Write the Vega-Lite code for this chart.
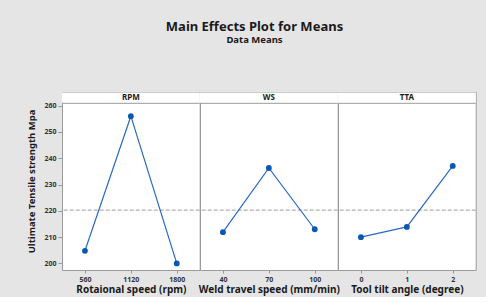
{
  "$schema": "https://vega.github.io/schema/vega-lite/v6.json",
  "background": "#e5e5e5",
  "padding": {"left": 26, "top": 21, "right": 4, "bottom": 2},
  "bounds": "flush",
  "title": {
    "text": "Main Effects Plot for Means",
    "subtitle": "Data Means",
    "anchor": "start",
    "align": "center",
    "dx": 228,
    "font": "Noto Sans",
    "fontSize": 13,
    "fontWeight": "bold",
    "color": "#1a1a1a",
    "subtitleFont": "Noto Sans",
    "subtitleFontSize": 9.5,
    "subtitleFontWeight": "bold",
    "subtitleColor": "#1a1a1a",
    "subtitlePadding": 1,
    "offset": 47
  },
  "data": {
    "values": [
      {"kind": "mean", "factor": "RPM", "level": 560, "value": 204.8},
      {"kind": "mean", "factor": "RPM", "level": 1120, "value": 256.0},
      {"kind": "mean", "factor": "RPM", "level": 1800, "value": 200.0},
      {"kind": "mean", "factor": "WS", "level": 40, "value": 211.9},
      {"kind": "mean", "factor": "WS", "level": 70, "value": 236.3},
      {"kind": "mean", "factor": "WS", "level": 100, "value": 213.0},
      {"kind": "mean", "factor": "TTA", "level": 0, "value": 210.0},
      {"kind": "mean", "factor": "TTA", "level": 1, "value": 213.9},
      {"kind": "mean", "factor": "TTA", "level": 2, "value": 237.1},
      {"kind": "strip", "factor": "RPM", "level": 1120, "value": 263.05, "label": "RPM"},
      {"kind": "strip", "factor": "WS", "level": 70, "value": 263.05, "label": "WS"},
      {"kind": "strip", "factor": "TTA", "level": 1, "value": 263.05, "label": "TTA"},
      {"kind": "stripline", "factor": "all", "value": 260.9},
      {"kind": "grand", "factor": "all", "value": 220.3}
    ]
  },
  "spacing": 0,
  "config": {
    "view": {"stroke": "#9a9a9a", "strokeWidth": 1, "fill": "white"},
    "axis": {
      "labelFont": "Noto Sans",
      "titleFont": "Noto Sans",
      "labelFontWeight": "bold",
      "titleFontWeight": "bold",
      "labelColor": "#333333",
      "titleColor": "#1a1a1a",
      "tickColor": "#9a9a9a",
      "domain": false,
      "grid": false,
      "labelOverlap": false
    }
  },
  "hconcat": [
    {
      "width": 137.7,
      "height": 178,
      "transform": [{"filter": "datum.factor === 'all' || datum.factor === 'RPM'"}],
      "encoding": {
        "y": {"field": "value", "type": "quantitative",
          "scale": {"domain": [197.5, 265.2], "nice": false, "zero": false},
          "axis": {"title": "Ultimate Tensile strength Mpa", "values": [200, 210, 220, 230, 240, 250, 260], "labelFontSize": 7, "tickSize": 4, "labelPadding": 2, "titleFontSize": 9.5, "titlePadding": 7}}
      },
      "layer": [
        {
          "transform": [{"filter": "datum.kind === 'strip'"}],
          "mark": {"type": "rule", "color": "white", "strokeWidth": 10.5},
          "encoding": {}
        },
        {
          "transform": [{"filter": "datum.kind === 'stripline'"}],
          "mark": {"type": "rule", "color": "#9a9a9a", "strokeWidth": 1},
          "encoding": {}
        },
        {
          "transform": [{"filter": "datum.kind === 'grand'"}],
          "mark": {"type": "rule", "color": "#b0b0b0", "strokeDash": [4, 2], "strokeWidth": 1.2},
          "encoding": {}
        },
        {
          "transform": [{"filter": "datum.kind === 'mean'"}],
          "mark": {"type": "line", "color": "#2a6ac4", "strokeWidth": 1.2},
          "encoding": {
            "x": {"field": "level", "type": "ordinal", "scale": {"type": "point", "padding": 0.5},
              "axis": {"title": "Rotaional speed (rpm)", "labelAngle": 0, "labelFontSize": 7, "tickSize": 3, "labelPadding": 2, "titleFontSize": 10, "titlePadding": 2}}
          }
        },
        {
          "transform": [{"filter": "datum.kind === 'mean'"}],
          "mark": {"type": "circle", "color": "#0b58b0", "opacity": 1, "size": 34},
          "encoding": {"x": {"field": "level", "type": "ordinal"}}
        },
        {
          "transform": [{"filter": "datum.kind === 'strip'"}],
          "mark": {"type": "text", "font": "Noto Sans", "fontSize": 8, "fontWeight": "bold", "color": "#1a1a1a", "baseline": "middle"},
          "encoding": {"x": {"field": "level", "type": "ordinal"}, "text": {"field": "label"}}
        }
      ]
    },
    {
      "width": 137.7,
      "height": 178,
      "transform": [{"filter": "datum.factor === 'all' || datum.factor === 'WS'"}],
      "encoding": {
        "y": {"field": "value", "type": "quantitative",
          "scale": {"domain": [197.5, 265.2], "nice": false, "zero": false},
          "axis": null}
      },
      "layer": [
        {
          "transform": [{"filter": "datum.kind === 'strip'"}],
          "mark": {"type": "rule", "color": "white", "strokeWidth": 10.5},
          "encoding": {}
        },
        {
          "transform": [{"filter": "datum.kind === 'stripline'"}],
          "mark": {"type": "rule", "color": "#9a9a9a", "strokeWidth": 1},
          "encoding": {}
        },
        {
          "transform": [{"filter": "datum.kind === 'grand'"}],
          "mark": {"type": "rule", "color": "#b0b0b0", "strokeDash": [4, 2], "strokeWidth": 1.2},
          "encoding": {}
        },
        {
          "transform": [{"filter": "datum.kind === 'mean'"}],
          "mark": {"type": "line", "color": "#2a6ac4", "strokeWidth": 1.2},
          "encoding": {
            "x": {"field": "level", "type": "ordinal", "scale": {"type": "point", "padding": 0.5},
              "axis": {"title": "Weld travel speed (mm/min)", "labelAngle": 0, "labelFontSize": 7, "tickSize": 3, "labelPadding": 2, "titleFontSize": 10, "titlePadding": 2}}
          }
        },
        {
          "transform": [{"filter": "datum.kind === 'mean'"}],
          "mark": {"type": "circle", "color": "#0b58b0", "opacity": 1, "size": 34},
          "encoding": {"x": {"field": "level", "type": "ordinal"}}
        },
        {
          "transform": [{"filter": "datum.kind === 'strip'"}],
          "mark": {"type": "text", "font": "Noto Sans", "fontSize": 8, "fontWeight": "bold", "color": "#1a1a1a", "baseline": "middle"},
          "encoding": {"x": {"field": "level", "type": "ordinal"}, "text": {"field": "label"}}
        }
      ]
    },
    {
      "width": 137.7,
      "height": 178,
      "transform": [{"filter": "datum.factor === 'all' || datum.factor === 'TTA'"}],
      "encoding": {
        "y": {"field": "value", "type": "quantitative",
          "scale": {"domain": [197.5, 265.2], "nice": false, "zero": false},
          "axis": null}
      },
      "layer": [
        {
          "transform": [{"filter": "datum.kind === 'strip'"}],
          "mark": {"type": "rule", "color": "white", "strokeWidth": 10.5},
          "encoding": {}
        },
        {
          "transform": [{"filter": "datum.kind === 'stripline'"}],
          "mark": {"type": "rule", "color": "#9a9a9a", "strokeWidth": 1},
          "encoding": {}
        },
        {
          "transform": [{"filter": "datum.kind === 'grand'"}],
          "mark": {"type": "rule", "color": "#b0b0b0", "strokeDash": [4, 2], "strokeWidth": 1.2},
          "encoding": {}
        },
        {
          "transform": [{"filter": "datum.kind === 'mean'"}],
          "mark": {"type": "line", "color": "#2a6ac4", "strokeWidth": 1.2},
          "encoding": {
            "x": {"field": "level", "type": "ordinal", "scale": {"type": "point", "padding": 0.5},
              "axis": {"title": "Tool tilt angle (degree)", "labelAngle": 0, "labelFontSize": 7, "tickSize": 3, "labelPadding": 2, "titleFontSize": 10, "titlePadding": 2}}
          }
        },
        {
          "transform": [{"filter": "datum.kind === 'mean'"}],
          "mark": {"type": "circle", "color": "#0b58b0", "opacity": 1, "size": 34},
          "encoding": {"x": {"field": "level", "type": "ordinal"}}
        },
        {
          "transform": [{"filter": "datum.kind === 'strip'"}],
          "mark": {"type": "text", "font": "Noto Sans", "fontSize": 8, "fontWeight": "bold", "color": "#1a1a1a", "baseline": "middle"},
          "encoding": {"x": {"field": "level", "type": "ordinal"}, "text": {"field": "label"}}
        }
      ]
    }
  ]
}
